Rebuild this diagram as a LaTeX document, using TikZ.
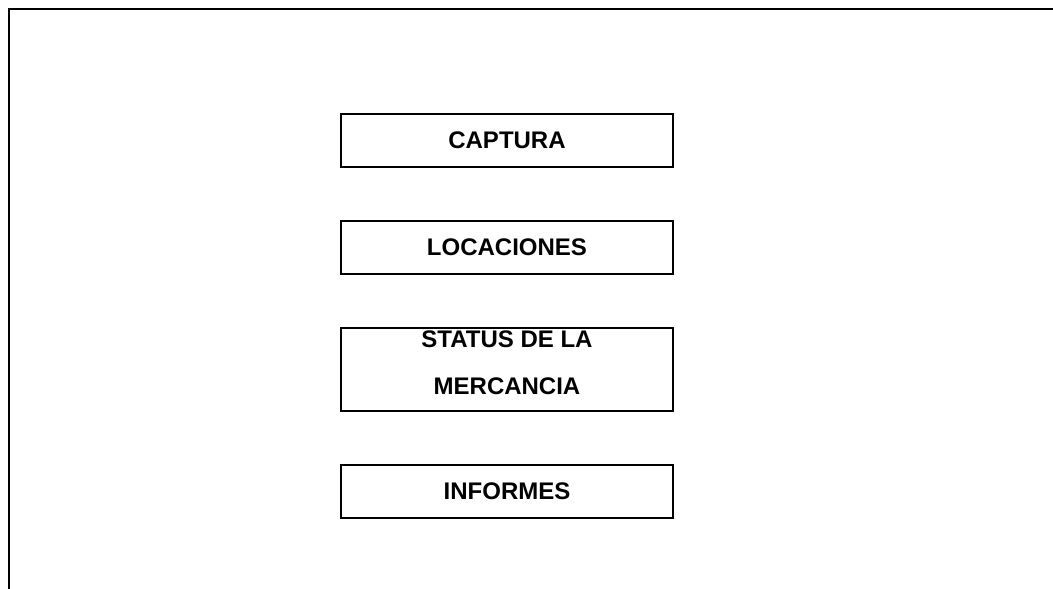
\documentclass[tikz,border=0pt]{standalone}
\usepackage{fontspec}
\setmainfont{Liberation Sans}
\usepackage{tikz}
\tikzset{modulo/.style={draw, line width=1.6pt, minimum width=332pt, minimum height=53pt, inner sep=0pt, align=center, font=\bfseries\fontsize{24}{47}\selectfont}}

\begin{document}
\begin{tikzpicture}[x=1pt,y=-1pt]
		\useasboundingbox (0,0) rectangle (1053,589);
		\draw[line width=2pt] (1053,8.5) -- (9,8.5) -- (9,589);

		\node[modulo] (captura) at (507,140.5) {CAPTURA};
		\node[modulo] (locaciones) at (507,247.5) {LOCACIONES};
		\node[modulo,minimum height=83pt,text depth=14pt] (status) at (507,369.5) {STATUS DE LA\\MERCANCIA};
		\node[modulo] (informes) at (507,491.5) {INFORMES};
	\end{tikzpicture}
\end{document}
